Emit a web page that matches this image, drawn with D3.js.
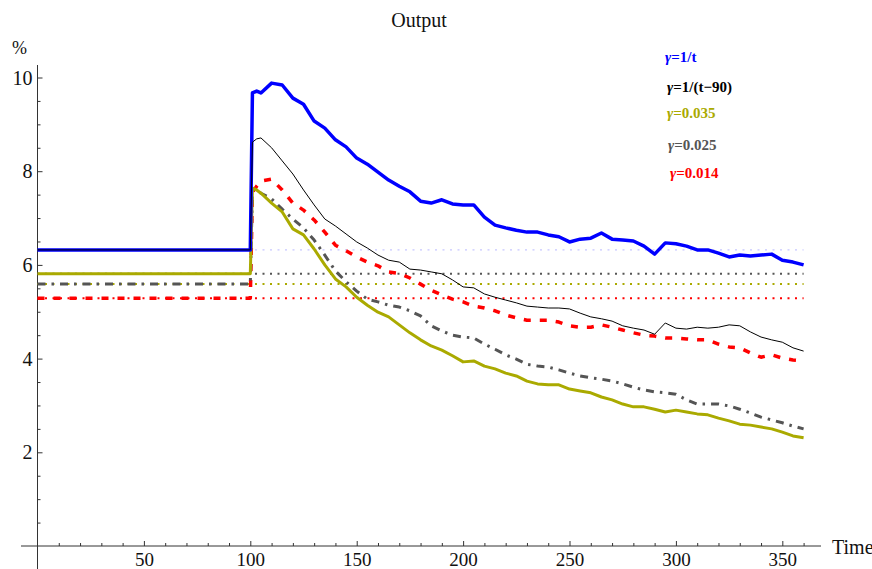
<!DOCTYPE html>
<html>
<head>
<meta charset="utf-8">
<script src="https://cdn.jsdelivr.net/npm/d3@7"></script>
<style>
  html, body { margin: 0; padding: 0; background: #fff; }
  svg { display: block; }
</style>
</head>
<body>
<svg id="chart" width="872" height="569"></svg>
<script>
// ---- data ----
const times = [0, 100, 101, 103, 105,
  110, 115, 120, 125, 130, 135, 140, 145, 150, 155, 160, 165, 170, 175, 180, 185, 190, 195, 200,
  205, 210, 215, 220, 225, 230, 235, 240, 245, 250, 255, 260, 265, 270, 275, 280, 285, 290, 295,
  300, 305, 310, 315, 320, 325, 330, 335, 340, 345, 350, 355, 360];

const gammaInvT = [6.32, 6.32, 9.67, 9.71, 9.67,
  9.88, 9.84, 9.56, 9.43, 9.07, 8.92, 8.67, 8.52, 8.28, 8.15, 7.98, 7.81, 7.68, 7.56, 7.36, 7.32, 7.39, 7.30, 7.28,
  7.28, 7.02, 6.85, 6.79, 6.74, 6.70, 6.70, 6.64, 6.60, 6.49, 6.55, 6.57, 6.68, 6.55, 6.53, 6.51, 6.40, 6.23, 6.47,
  6.45, 6.40, 6.32, 6.32, 6.25, 6.17, 6.21, 6.19, 6.21, 6.23, 6.10, 6.06, 6.00];

const gammaInvT90 = [6.32, 6.32, 8.62, 8.69, 8.71,
  8.50, 8.22, 7.94, 7.60, 7.28, 6.98, 6.83, 6.66, 6.49, 6.36, 6.21, 6.10, 6.06, 5.91, 5.89, 5.85, 5.81, 5.68, 5.53,
  5.51, 5.38, 5.31, 5.25, 5.19, 5.12, 5.10, 5.08, 5.08, 5.06, 4.97, 4.89, 4.85, 4.80, 4.70, 4.65, 4.61, 4.52, 4.76,
  4.65, 4.63, 4.67, 4.65, 4.67, 4.72, 4.70, 4.57, 4.46, 4.40, 4.35, 4.23, 4.16];

const gamma035 = [5.81, 5.81, 7.64, 7.60, 7.53,
  7.32, 7.13, 6.77, 6.64, 6.34, 6.00, 5.70, 5.53, 5.31, 5.14, 4.99, 4.89, 4.72, 4.55, 4.40, 4.27, 4.18, 4.06, 3.93,
  3.95, 3.84, 3.78, 3.69, 3.63, 3.52, 3.46, 3.44, 3.44, 3.35, 3.31, 3.27, 3.18, 3.12, 3.03, 2.97, 2.97, 2.92, 2.86,
  2.90, 2.86, 2.82, 2.80, 2.73, 2.67, 2.60, 2.58, 2.54, 2.50, 2.43, 2.35, 2.31];

const gamma025 = [5.59, 5.59, 7.60, 7.60, 7.53,
  7.41, 7.19, 6.98, 6.79, 6.53, 6.21, 5.87, 5.64, 5.44, 5.27, 5.21, 5.14, 5.10, 5.02, 4.91, 4.70, 4.59, 4.50, 4.46,
  4.44, 4.31, 4.20, 4.08, 3.99, 3.88, 3.84, 3.82, 3.76, 3.69, 3.63, 3.59, 3.56, 3.52, 3.46, 3.39, 3.33, 3.29, 3.27,
  3.24, 3.12, 3.03, 3.03, 3.03, 2.99, 2.92, 2.84, 2.75, 2.69, 2.63, 2.56, 2.50];

const gamma014 = [5.29, 5.29, 7.55, 7.68, 7.79,
  7.83, 7.60, 7.32, 7.17, 6.96, 6.70, 6.42, 6.30, 6.17, 6.06, 5.98, 5.85, 5.82, 5.72, 5.59, 5.46, 5.36, 5.27, 5.21,
  5.12, 5.08, 5.02, 4.93, 4.87, 4.82, 4.82, 4.82, 4.78, 4.70, 4.67, 4.67, 4.72, 4.67, 4.61, 4.55, 4.50, 4.48, 4.44,
  4.44, 4.42, 4.40, 4.40, 4.31, 4.25, 4.23, 4.12, 4.03, 4.08, 4.01, 3.97, 3.95];

// horizontal reference levels (dotted)
const refLevels = [6.32, 5.81, 5.59, 5.29];
const refColors = ["#b9b9ff", "#555555", "#aaaa00", "#ff0000"];

const legendLabels = ["1/t", "1/(t\u221290)", "0.035", "0.025", "0.014"];
const xMajorTicks = [50, 100, 150, 200, 250, 300, 350];
const yMajorTicks = [2, 4, 6, 8, 10];

// ---- drawing ----
const svg = d3.select("#chart");
const x = d3.scaleLinear().domain([0, 360]).range([37.5, 803.6]);
const y = d3.scaleLinear().domain([0, 10]).range([546, 77.5]);
const FONT = "'Liberation Serif', 'Times New Roman', serif";

// axes lines
svg.append("line").attr("x1", 21).attr("x2", 821).attr("y1", y(0)).attr("y2", y(0))
  .attr("stroke", "#333").attr("stroke-width", 1);
svg.append("line").attr("x1", x(0)).attr("x2", x(0)).attr("y1", 65).attr("y2", 569)
  .attr("stroke", "#333").attr("stroke-width", 1);

// x axis ticks
const xMinor = d3.range(10, 361, 10).filter(v => v % 50 !== 0);
const gxMinor = svg.append("g").attr("transform", `translate(0,${y(0)})`)
  .call(d3.axisBottom(x).tickValues(xMinor).tickSize(-3).tickFormat(""));
const gxMajor = svg.append("g").attr("transform", `translate(0,${y(0)})`)
  .call(d3.axisBottom(x).tickValues(xMajorTicks).tickSize(-5).tickPadding(0).tickFormat(d3.format("d")));
[gxMinor, gxMajor].forEach(g => {
  g.select(".domain").remove();
  g.selectAll(".tick line").attr("stroke", "#333");
});
gxMajor.selectAll(".tick text").attr("y", 20).attr("dy", null)
  .attr("font-family", FONT).attr("font-size", 19).attr("fill", "#111");

// y axis ticks
const yMinor = d3.range(0.5, 10.01, 0.5).filter(v => Math.abs(v % 2) > 1e-9);
const gyMinor = svg.append("g").attr("transform", `translate(${x(0)},0)`)
  .call(d3.axisLeft(y).tickValues(yMinor).tickSize(-3).tickFormat(""));
const gyMajor = svg.append("g").attr("transform", `translate(${x(0)},0)`)
  .call(d3.axisLeft(y).tickValues(yMajorTicks).tickSize(-5).tickPadding(0).tickFormat(d3.format("d")));
[gyMinor, gyMajor].forEach(g => {
  g.select(".domain").remove();
  g.selectAll(".tick line").attr("stroke", "#333");
});
gyMajor.selectAll(".tick text").attr("x", -5).attr("dy", "0.33em")
  .attr("font-family", FONT).attr("font-size", 20).attr("fill", "#111");

// reference dotted lines
refLevels.forEach((lv, i) => {
  svg.append("line")
    .attr("x1", x(0)).attr("x2", x(360))
    .attr("y1", y(lv)).attr("y2", y(lv))
    .attr("stroke", refColors[i])
    .attr("stroke-width", i === 0 ? 1 : 2)
    .attr("stroke-dasharray", "2,5.5");
});

const line = d3.line().x((d, i) => x(times[i])).y(d => y(d));

const series = [
  { vals: gamma014, color: "#ff0000", width: 3.5, dash: "7,9" },
  { vals: gamma025, color: "#555555", width: 3, dash: "8,6,2.5,6" },
  { vals: gamma035, color: "#aaaa00", width: 3, dash: null },
  { vals: gammaInvT, color: "#0000ff", width: 3.5, dash: null },
  { vals: gammaInvT90, color: "#000000", width: 1, dash: null }
];
series.forEach(s => {
  svg.append("path")
    .attr("d", line(s.vals))
    .attr("fill", "none")
    .attr("stroke", s.color)
    .attr("stroke-width", s.width)
    .attr("stroke-linejoin", "round")
    .attr("stroke-dasharray", s.dash);
});

// title & axis labels
svg.append("text").attr("x", 419).attr("y", 27).attr("text-anchor", "middle")
  .attr("font-family", FONT).attr("font-size", 20).attr("fill", "#111").text("Output");
svg.append("text").attr("x", 12).attr("y", 54)
  .attr("font-family", FONT).attr("font-size", 18).attr("fill", "#111").text("%");
svg.append("text").attr("x", 832).attr("y", 554)
  .attr("font-family", FONT).attr("font-size", 20).attr("fill", "#111").text("Time");

// legend
const legendColors = ["#0000ff", "#000000", "#aaaa00", "#555555", "#ff0000"];
const legendX = [665, 667, 667, 668, 670];
const legendY = [62, 92, 118, 150, 178];
legendLabels.forEach((lab, i) => {
  const t = svg.append("text").attr("x", legendX[i]).attr("y", legendY[i])
    .attr("font-family", FONT).attr("font-size", 15).attr("font-weight", "bold")
    .attr("fill", legendColors[i]);
  t.append("tspan").attr("font-style", "italic").text("\u03B3");
  t.append("tspan").text("=" + lab);
});
</script>
</body>
</html>
